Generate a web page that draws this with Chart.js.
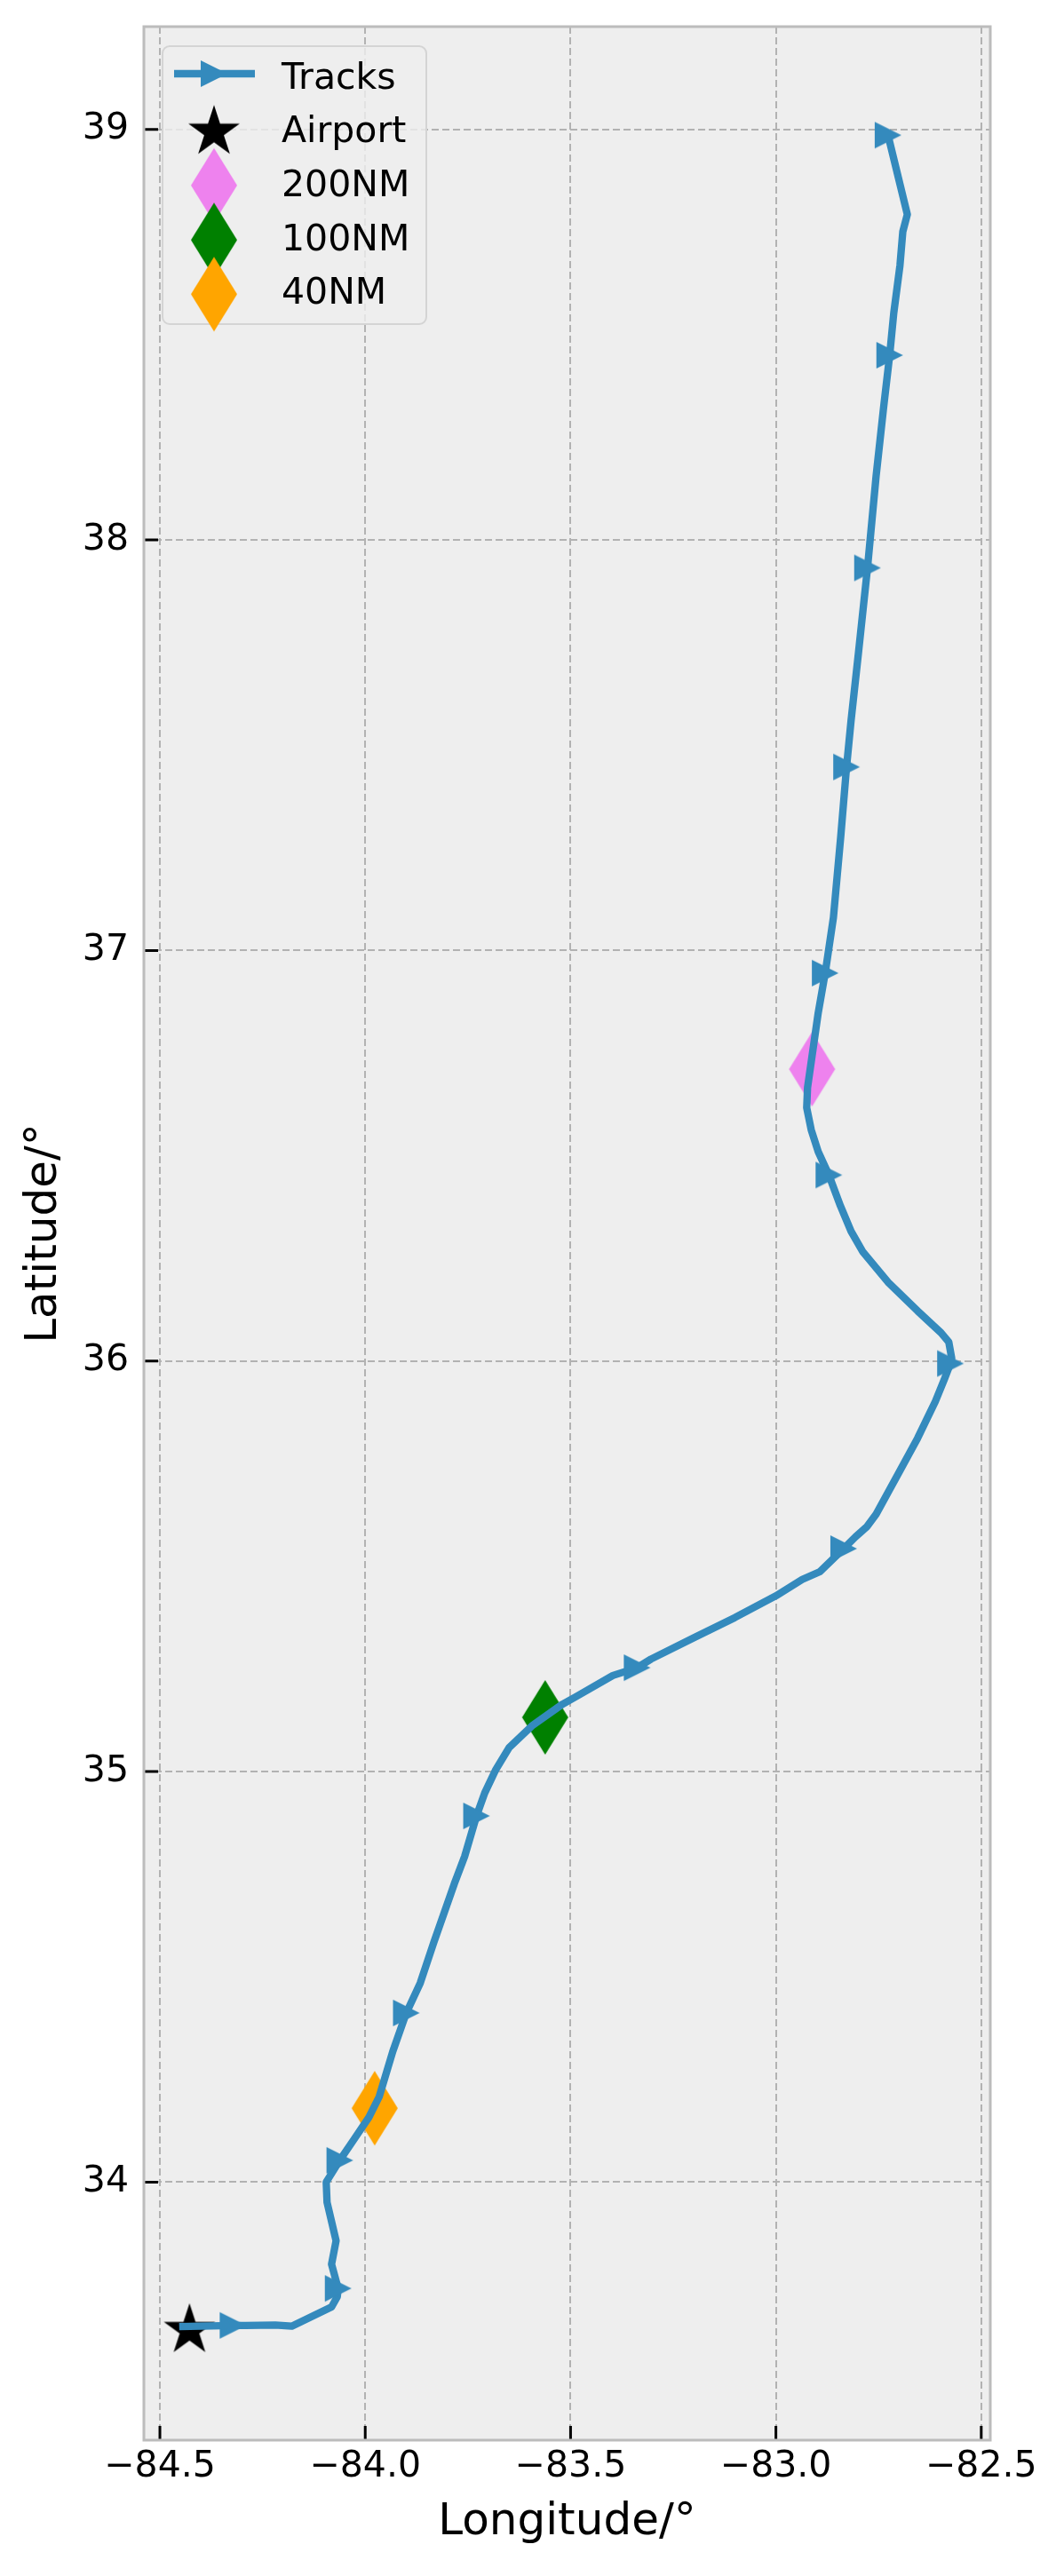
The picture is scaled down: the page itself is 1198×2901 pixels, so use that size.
<!DOCTYPE html>
<html>
<head>
<meta charset="utf-8">
<script src="https://cdn.jsdelivr.net/npm/chart.js@4.4.1/dist/chart.umd.min.js"></script>
<style>
  html, body { margin: 0; padding: 0; background: #fff; }
  canvas { display: block; }
</style>
</head>
<body>
<canvas id="trackChart" width="1198" height="2901"></canvas>
<script>
// flight track, from the top end down to the airport
var trackLon = [
  -82.727, -82.680, -82.691, -82.698, -82.713, -82.723, -82.738, -82.756, -82.777, -82.799,
  -82.817, -82.828, -82.842, -82.860, -82.880, -82.897, -82.923, -82.925, -82.914, -82.897,
  -82.871, -82.843, -82.817, -82.789, -82.727, -82.655, -82.598, -82.579, -82.572, -82.575,
  -82.590, -82.612, -82.655, -82.698, -82.727, -82.756, -82.778, -82.806, -82.835, -82.893,
  -82.936, -83.000, -83.100, -83.196, -83.304, -83.338, -83.397, -83.484, -83.520, -83.592,
  -83.650, -83.683, -83.709, -83.729, -83.758, -83.783, -83.833, -83.866, -83.900, -83.933,
  -83.966, -83.991, -84.024, -84.062, -84.095, -84.093, -84.071, -84.082, -84.066, -84.068,
  -84.082, -84.179, -84.219, -84.291, -84.322, -84.453
];
var trackLat = [
  38.986, 38.793, 38.751, 38.668, 38.553, 38.450, 38.321, 38.156, 37.932, 37.725,
  37.560, 37.447, 37.279, 37.080, 36.945, 36.848, 36.666, 36.617, 36.563, 36.510,
  36.453, 36.378, 36.316, 36.267, 36.192, 36.122, 36.069, 36.046, 36.007, 35.994,
  35.955, 35.901, 35.812, 35.733, 35.680, 35.627, 35.597, 35.572, 35.543, 35.487,
  35.468, 35.428, 35.375, 35.328, 35.274, 35.253, 35.234, 35.184, 35.164, 35.113,
  35.058, 35.003, 34.948, 34.892, 34.793, 34.727, 34.584, 34.485, 34.412, 34.318,
  34.208, 34.158, 34.109, 34.053, 34.000, 33.951, 33.857, 33.800, 33.741, 33.721,
  33.696, 33.649, 33.652, 33.651, 33.651, 33.648
];
// points of the track that carry a ">" marker
var arrowIdx = [0, 5, 8, 11, 14, 20, 29, 38, 45, 53, 58, 63, 68, 74];

var airportLon = -84.428;
var airportLat = 33.639;

var ringNames = ['200NM', '100NM', '40NM'];
var ringLon = [-82.912, -83.562, -83.977];
var ringLat = [36.711, 35.132, 34.180];
var ringColors = ['#EE82EE', '#008000', '#FFA500'];

var xTicks = [-84.5, -84.0, -83.5, -83.0, -82.5];
var yTicks = [34, 35, 36, 37, 38, 39];
var xMin = -84.539, xMax = -82.478;
var yMin = 33.3715, yMax = 39.2503;

var trackColor = '#348ABD';
var fontFam = 'DejaVu Sans';

function shapeCanvas(w, h, color, pts) {
  var c = document.createElement('canvas');
  c.width = w; c.height = h;
  var g = c.getContext('2d');
  g.fillStyle = color;
  g.beginPath();
  pts.forEach(function(p, i) { if (i) g.lineTo(p[0], p[1]); else g.moveTo(p[0], p[1]); });
  g.closePath();
  g.fill();
  return c;
}

var arrowImg = shapeCanvas(32, 32, trackColor, [[1, 1], [31, 16], [1, 31]]);
var starPts = [];
for (var k = 0; k < 10; k++) {
  var ang = -Math.PI / 2 + k * Math.PI / 5;
  var r = (k % 2 === 0) ? 30.4 : 11.6;
  starPts.push([32 + r * Math.cos(ang), 32 + r * Math.sin(ang)]);
}
var starImg = shapeCanvas(64, 64, '#000000', starPts);
var diamondImgs = ringColors.map(function(col) {
  return shapeCanvas(56, 88, col, [[28, 2], [54, 44], [28, 86], [2, 44]]);
});

var datasets = [{
  label: 'Tracks',
  data: trackLon.map(function(x, i) { return {x: x, y: trackLat[i]}; }),
  showLine: true,
  borderColor: trackColor,
  backgroundColor: trackColor,
  borderWidth: 8.3,
  borderJoinStyle: 'round',
  borderCapStyle: 'butt',
  tension: 0,
  pointStyle: arrowImg,
  pointRadius: function(c) { return arrowIdx.indexOf(c.dataIndex) >= 0 ? 15 : 0; },
  order: 0
}, {
  label: 'Airport',
  data: [{x: airportLon, y: airportLat}],
  pointStyle: starImg,
  pointRadius: 30,
  order: 1
}];
ringNames.forEach(function(n, i) {
  datasets.push({
    label: n,
    data: [{x: ringLon[i], y: ringLat[i]}],
    pointStyle: diamondImgs[i],
    pointRadius: 30,
    order: 1
  });
});

var framePlugin = {
  id: 'frame',
  beforeDraw: function(chart) {
    var ctx = chart.ctx, a = chart.chartArea;
    ctx.save();
    ctx.fillStyle = '#ffffff';
    ctx.fillRect(0, 0, chart.width, chart.height);
    ctx.fillStyle = '#eeeeee';
    ctx.fillRect(a.left, a.top, a.right - a.left, a.bottom - a.top);
    ctx.restore();
  },
  afterDatasetsDraw: function(chart) {
    var ctx = chart.ctx, a = chart.chartArea;
    var xs = chart.scales.x, ys = chart.scales.y;
    ctx.save();
    ctx.strokeStyle = '#000';
    ctx.lineWidth = 3;
    ctx.beginPath();
    xTicks.forEach(function(v) {
      var px = xs.getPixelForValue(v);
      ctx.moveTo(px, a.bottom); ctx.lineTo(px, a.bottom - 16);
    });
    yTicks.forEach(function(v) {
      var py = ys.getPixelForValue(v);
      ctx.moveTo(a.left, py); ctx.lineTo(a.left + 16, py);
    });
    ctx.stroke();
    ctx.strokeStyle = '#bcbcbc';
    ctx.lineWidth = 3;
    ctx.strokeRect(a.left, a.top, a.right - a.left, a.bottom - a.top);
    ctx.restore();
  }
};

// legend inside the axes, upper left
var legendPlugin = {
  id: 'innerLegend',
  afterDraw: function(chart) {
    var ctx = chart.ctx;
    var bx = 183, by = 52, bw = 297, bh = 313, rad = 8;
    ctx.save();
    ctx.beginPath();
    ctx.moveTo(bx + rad, by);
    ctx.arcTo(bx + bw, by, bx + bw, by + bh, rad);
    ctx.arcTo(bx + bw, by + bh, bx, by + bh, rad);
    ctx.arcTo(bx, by + bh, bx, by, rad);
    ctx.arcTo(bx, by, bx + bw, by, rad);
    ctx.closePath();
    ctx.fillStyle = 'rgba(238,238,238,0.8)';
    ctx.fill();
    ctx.strokeStyle = '#d4d4d4';
    ctx.lineWidth = 2;
    ctx.stroke();

    var baselines = [100, 160, 221, 282, 342];
    var centers = [83, 148.7, 208.7, 270.3, 331.3];
    var hx = 241;
    ctx.font = '41px "' + fontFam + '"';
    ctx.fillStyle = '#000';
    ctx.textBaseline = 'alphabetic';
    chart.data.datasets.forEach(function(ds, i) {
      var img = ds.pointStyle;
      if (ds.showLine) {
        ctx.strokeStyle = ds.borderColor;
        ctx.lineWidth = ds.borderWidth;
        ctx.beginPath();
        ctx.moveTo(196, centers[i]);
        ctx.lineTo(287, centers[i]);
        ctx.stroke();
      }
      ctx.drawImage(img, hx - img.width / 2, centers[i] - img.height / 2);
      ctx.fillText(ds.label, 317, baselines[i]);
    });
    ctx.restore();
  }
};

var ctx = document.getElementById('trackChart').getContext('2d');
var trackChart = new Chart(ctx, {
  type: 'scatter',
  data: { datasets: datasets },
  plugins: [framePlugin, legendPlugin],
  options: {
    responsive: false,
    devicePixelRatio: 1,
    animation: false,
    events: [],
    layout: { autoPadding: false, padding: { top: 30, right: 83, bottom: 0, left: 0 } },
    plugins: { legend: { display: false }, tooltip: { enabled: false } },
    scales: {
      x: {
        type: 'linear',
        min: xMin,
        max: xMax,
        afterBuildTicks: function(s) { s.ticks = xTicks.map(function(v) { return {value: v}; }); },
        afterFit: function(s) { s.height = 153; s.paddingLeft = 0; s.paddingRight = 0; },
        grid: { color: '#b2b2b2', lineWidth: 2, drawTicks: false },
        border: { display: false, dash: [8, 4] },
        ticks: {
          padding: 6, color: '#000', autoSkip: false, maxRotation: 0,
          font: { family: fontFam, size: 41 },
          callback: function(v) { return v.toFixed(1).replace('-', '\u2212'); }
        },
        title: {
          display: true, text: 'Longitude/°', color: '#000',
          font: { family: fontFam, size: 50 },
          padding: { top: 0, bottom: 30 }
        }
      },
      y: {
        type: 'linear',
        min: yMin,
        max: yMax,
        afterBuildTicks: function(s) { s.ticks = yTicks.map(function(v) { return {value: v}; }); },
        afterFit: function(s) { s.width = 162; s.paddingTop = 0; s.paddingBottom = 0; },
        grid: { color: '#b2b2b2', lineWidth: 2, drawTicks: false },
        border: { display: false, dash: [8, 4] },
        ticks: {
          padding: 17, color: '#000', autoSkip: false,
          font: { family: fontFam, size: 41 },
          callback: function(v) { return String(v); }
        },
        title: {
          display: true, text: 'Latitude/°', color: '#000',
          font: { family: fontFam, size: 50 },
          padding: { top: 20, bottom: 0 }
        }
      }
    }
  }
});
</script>
</body>
</html>
